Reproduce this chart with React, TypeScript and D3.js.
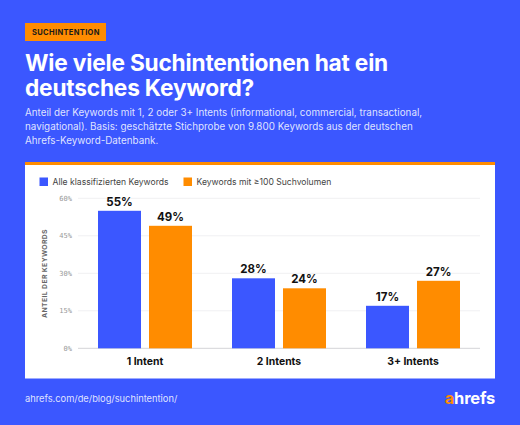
import React from "react";
import * as d3 from "d3";

const categories = ["1 Intent", "2 Intents", "3+ Intents"];
const seriesNames = ["Alle klassifizierten Keywords", "Keywords mit ≥100 Suchvolumen"];
const allKeywords = [55, 28, 17];
const volumeKeywords = [49, 24, 27];
const yTicks = [0, 15, 30, 45, 60];
const BLUE = "#3b57ff";
const ORANGE = "#ff8c00";
const F = "Inter, sans-serif";

const x0 = d3.scaleBand<string>().domain(categories).range([78, 480]);
const x1 = d3.scaleBand<string>().domain(seriesNames).range([20, 114]).paddingInner(8 / 51).paddingOuter(0);
const y = d3.scaleLinear().domain([0, 60]).range([348.3, 198.3]);
const seriesValues = [allKeywords, volumeKeywords];
const seriesColors = [BLUE, ORANGE];

export default function App() {
  return (
    <svg width={520} height={425} viewBox="0 0 520 425" style={{ position: "fixed", left: 0, top: 0, display: "block" }} fontFamily={F}>
      <rect width={520} height={425} fill={BLUE} />
      <rect x={25} y={23} width={81} height={18} fill={ORANGE} />
      <text x={32} y={35} fontSize={7.5} fontWeight={700} letterSpacing={0.35} fill="#1a1a1a">SUCHINTENTION</text>
      <text x={25} y={71} fontSize={22.7} fontWeight={700} letterSpacing={-0.2} fill="#fff">Wie viele Suchintentionen hat ein</text>
      <text x={25} y={95.5} fontSize={22.7} fontWeight={700} letterSpacing={-0.2} fill="#fff">deutsches Keyword?</text>
      {["Anteil der Keywords mit 1, 2 oder 3+ Intents (informational, commercial, transactional,",
        "navigational). Basis: geschätzte Stichprobe von 9.800 Keywords aus der deutschen",
        "Ahrefs-Keyword-Datenbank."].map((t, i) => (
        <text key={i} x={25} y={115.5 + i * 14.3} fontSize={9.85} fill="#fff" fillOpacity={0.85}>{t}</text>
      ))}

      <rect x={25} y={162} width={470} height={216.5} fill="#fff" />
      <rect x={25} y={162} width={470} height={3} fill={ORANGE} />

      {seriesNames.map((s, i) => {
        const lx = i === 0 ? 39.5 : 183.5;
        return (
          <g key={s}>
            <rect x={lx} y={177.5} width={8.5} height={8.5} fill={seriesColors[i]} />
            <text x={lx + 13} y={184.8} fontSize={8.6} fill="#444">{s}</text>
          </g>
        );
      })}

      {yTicks.map((t) => (
        <g key={t}>
          <line x1={78} x2={480} y1={y(t)} y2={y(t)} stroke={t === 0 ? "#d4d4d8" : "#f0f0f2"} strokeWidth={1} />
          <text x={72} y={y(t) + 2.5} textAnchor="end" fontSize={7} fontFamily="'DejaVu Sans Mono', monospace" fill="#999">{t}%</text>
        </g>
      ))}

      <text transform="translate(47,273.5) rotate(-90)" textAnchor="middle" fontSize={6.8} fontWeight={700} letterSpacing={0.4} fill="#666">ANTEIL DER KEYWORDS</text>

      {categories.map((c, ci) => (
        <g key={c}>
          {seriesNames.map((s, si) => {
            const v = seriesValues[si][ci];
            const bx = x0(c)! + x1(s)!;
            return (
              <g key={s}>
                <rect x={bx} y={y(v)} width={x1.bandwidth()} height={y(0) - y(v)} fill={seriesColors[si]} />
                <text x={bx + x1.bandwidth() / 2} y={y(v) - 5} textAnchor="middle" fontSize={11.5} fontWeight={700} fill="#111">{v}%</text>
              </g>
            );
          })}
          <text x={x0(c)! + x0.bandwidth() / 2} y={364.8} textAnchor="middle" fontSize={10.4} fontWeight={700} fill="#111">{c}</text>
        </g>
      ))}

      <text x={25} y={402} fontSize={9.3} fill="#fff" fillOpacity={0.85}>ahrefs.com/de/blog/suchintention/</text>
      <text x={495} y={404} textAnchor="end" fontSize={16.5} fontWeight={700} fill="#fff" letterSpacing={-0.2}>
        <tspan fill={ORANGE}>a</tspan>hrefs
      </text>
    </svg>
  );
}
